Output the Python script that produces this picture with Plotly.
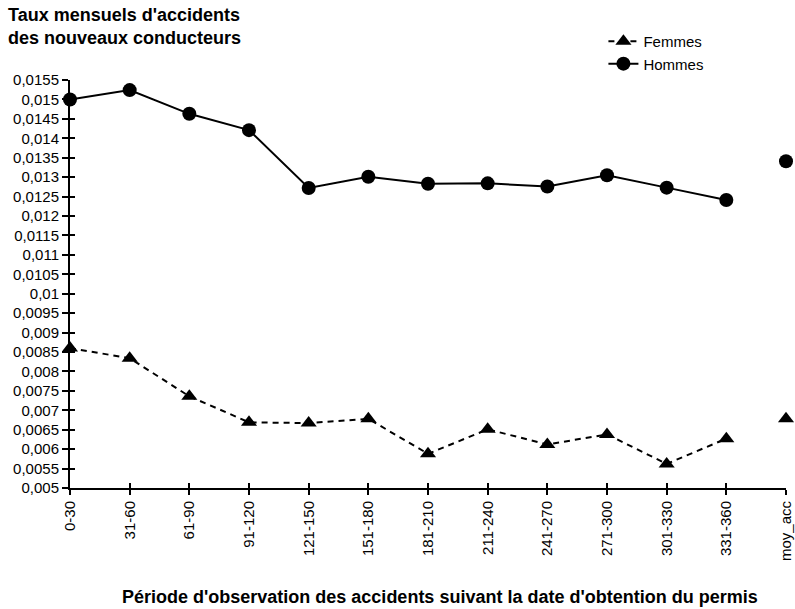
"""Taux mensuels d'accidents des nouveaux conducteurs."""

import plotly.graph_objects as go

periodes = [
    "0-30", "31-60", "61-90", "91-120", "121-150", "151-180", "181-210",
    "211-240", "241-270", "271-300", "301-330", "331-360", "moy_acc",
]
hommes = [0.0150, 0.01524, 0.01463, 0.01421, 0.01272, 0.01301, 0.01283,
          0.01284, 0.01276, 0.01305, 0.01273, 0.01241, 0.01341]
femmes = [0.0086, 0.00834, 0.00736, 0.00669, 0.00667, 0.00678, 0.00588,
          0.00651, 0.00612, 0.00638, 0.00562, 0.00627, 0.00678]

y_ticks = [0.005 + 0.0005 * i for i in range(22)]
y_ticktext = [
    "0,005", "0,0055", "0,006", "0,0065", "0,007", "0,0075", "0,008",
    "0,0085", "0,009", "0,0095", "0,01", "0,0105", "0,011", "0,0115",
    "0,012", "0,0125", "0,013", "0,0135", "0,014", "0,0145", "0,015", "0,0155",
]

FONT = "Liberation Sans, Arial, sans-serif"
x_idx = list(range(len(periodes)))

fig = go.Figure()
fig.add_trace(go.Scatter(
    x=x_idx[:-1], y=femmes[:-1], mode="lines+markers", name="Femmes",
    line=dict(color="black", width=2, dash="6px,5px"),
    marker=dict(symbol="triangle-up", size=14, color="black"),
    cliponaxis=False,
))
fig.add_trace(go.Scatter(
    x=x_idx[:-1], y=hommes[:-1], mode="lines+markers", name="Hommes",
    line=dict(color="black", width=2),
    marker=dict(symbol="circle", size=14, color="black"),
    cliponaxis=False,
))
# moyennes, points isolés
fig.add_trace(go.Scatter(
    x=x_idx[-1:], y=femmes[-1:], mode="markers", showlegend=False,
    marker=dict(symbol="triangle-up", size=14, color="black"), cliponaxis=False,
))
fig.add_trace(go.Scatter(
    x=x_idx[-1:], y=hommes[-1:], mode="markers", showlegend=False,
    marker=dict(symbol="circle", size=14, color="black"), cliponaxis=False,
))
# trace vide pour activer les axes secondaires (ticks croisés)
fig.add_trace(go.Scatter(x=[None], y=[None], xaxis="x2", yaxis="y2",
                         showlegend=False, hoverinfo="skip"))

y_range = [0.005, 0.0155]
x_range = [0, len(periodes) - 1]
tick_font = dict(family=FONT, size=15, color="black")

fig.update_layout(
    width=795, height=609,
    paper_bgcolor="white", plot_bgcolor="white",
    margin=dict(l=70, r=9, t=80, b=121, autoexpand=False),
    font=dict(family=FONT, color="black"),
    xaxis=dict(
        range=x_range, tickvals=x_idx, ticktext=periodes, tickangle=-90,
        showgrid=False, zeroline=False, showline=True, linecolor="black",
        linewidth=2, ticks="outside", ticklen=5, tickwidth=1.5,
        tickcolor="black", tickfont=tick_font, automargin=False,
    ),
    xaxis2=dict(
        range=x_range, tickvals=x_idx, overlaying="x", showticklabels=False,
        showgrid=False, zeroline=False, ticks="inside", ticklen=5,
        tickwidth=1.5, tickcolor="black", side="bottom", anchor="y",
        automargin=False,
    ),
    yaxis=dict(
        range=y_range, tickvals=y_ticks, ticktext=y_ticktext,
        showgrid=False, zeroline=False, showline=True, linecolor="black",
        linewidth=2, ticks="outside", ticklen=6, tickwidth=1.5,
        tickcolor="black", tickfont=tick_font, automargin=False,
    ),
    yaxis2=dict(
        range=y_range, tickvals=y_ticks, overlaying="y", showticklabels=False,
        showgrid=False, zeroline=False, ticks="inside", ticklen=5,
        tickwidth=1.5, tickcolor="black", side="left", anchor="x",
        automargin=False,
    ),
    legend=dict(
        x=0.745, y=1.135, xanchor="left", yanchor="top",
        font=dict(family=FONT, size=15, color="black"),
        bgcolor="rgba(0,0,0,0)", tracegroupgap=0,
    ),
    showlegend=True,
)

fig.add_annotation(
    text="<b>Taux mensuels d'accidents<br>des nouveaux conducteurs</b>",
    xref="paper", yref="paper", x=-0.089, y=1.189, xanchor="left",
    yanchor="top", align="left", showarrow=False,
    font=dict(family=FONT, size=18, color="black"),
)
fig.add_annotation(
    text="<b>Période d'observation des accidents suivant la date d'obtention du permis</b>",
    xref="paper", yref="paper", x=0.517, y=-0.267, xanchor="center",
    yanchor="middle", showarrow=False,
    font=dict(family=FONT, size=18, color="black"),
)

# la page HTML garde sinon une marge de 8px autour de la figure
fig.write_html(
    "out.html",
    config={"displayModeBar": False},
    post_script="document.body.style.margin = '0';",
)
